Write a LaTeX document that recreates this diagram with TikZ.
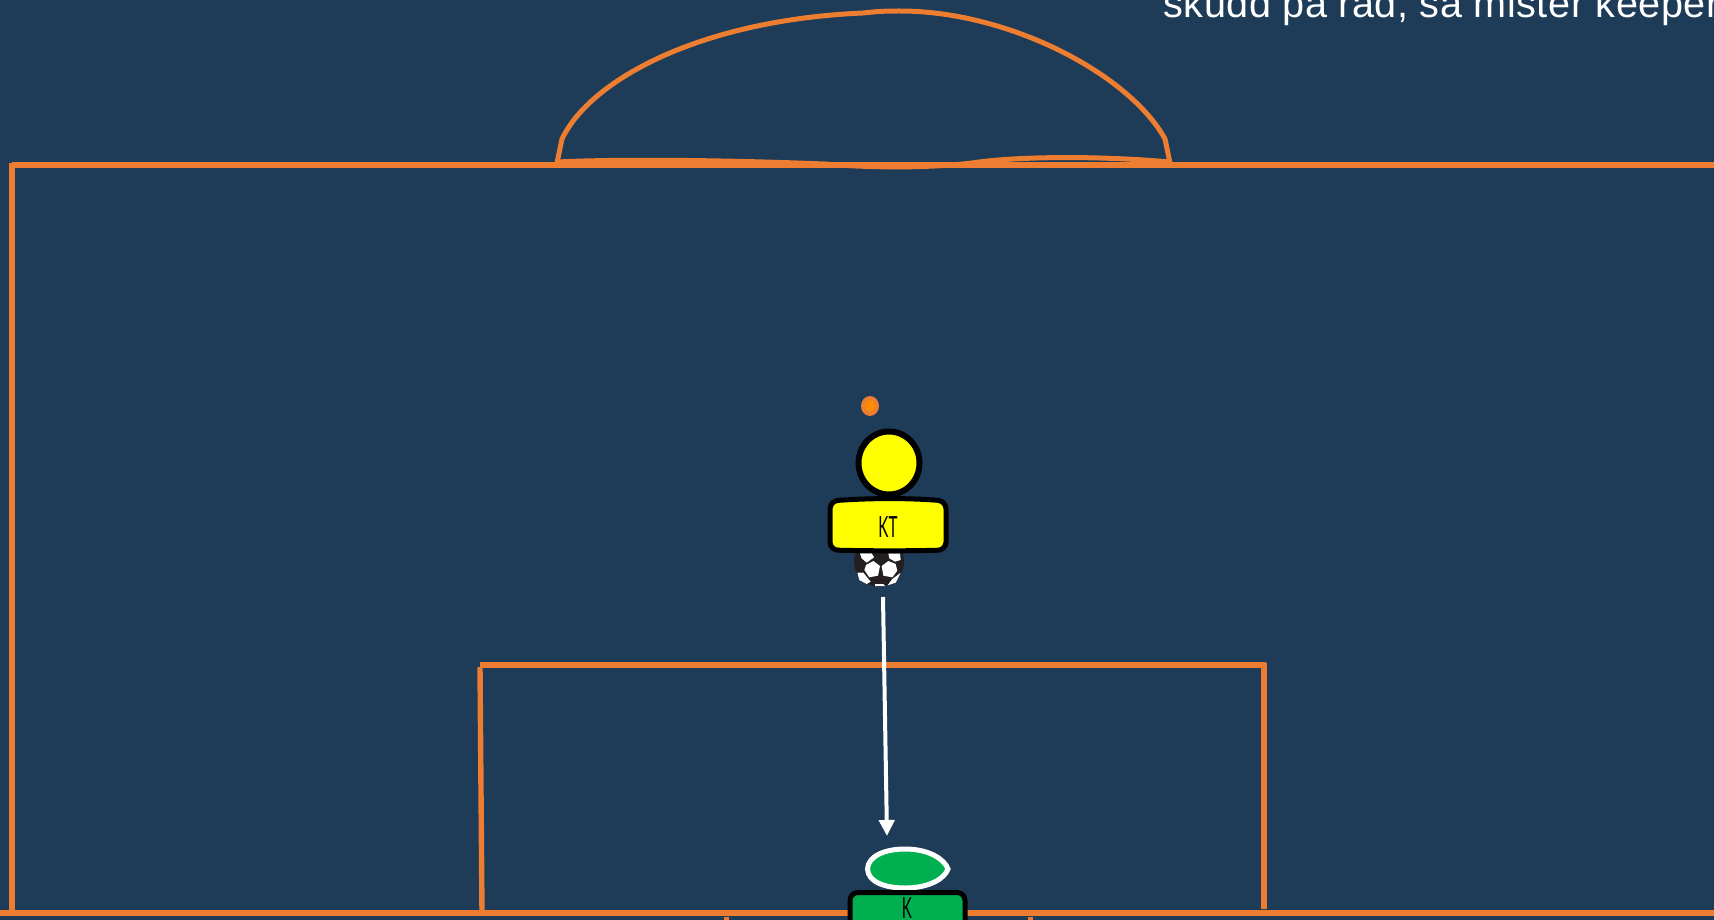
\documentclass[tikz,border=0pt]{standalone}
\usepackage{fontspec}
\setmainfont{Liberation Sans}
\newfontfamily\condfont{Lato}
\newfontfamily\topfont[LetterSpace=1.3]{Liberation Sans}
\usetikzlibrary{arrows.meta,shapes.geometric}
\definecolor{bgblue}{HTML}{1E3B57}
\definecolor{pitch}{HTML}{ED7D31}
\definecolor{dotin}{HTML}{FF8C00}
\definecolor{keepgreen}{HTML}{00B050}
\definecolor{ballink}{HTML}{231F20}
\definecolor{pureyellow}{RGB}{255,255,0}
\tikzset{
  x=0.5pt,y=-0.5pt,
  pitchline/.style={draw=pitch,line width=2.7pt},
  markline/.style={draw=pitch,line width=2.5pt,line join=round},
  outlined/.style={draw=black,line width=3pt,line join=round},
  boxed/.style={draw=black,line width=2.5pt,line join=round,rounded corners=4pt},
  lbl/.style={font=\condfont\fontsize{14.6}{14.6}\selectfont,inner sep=0pt,text=black},
  shotarrow/.style={draw=white,line width=2pt,-{Triangle[length=8pt,width=7.6pt]}},
}
\begin{document}
\begin{tikzpicture}
\useasboundingbox (0,0) rectangle (1714,920);
\clip (0,0) rectangle (1714,920);
\fill[bgblue] (0,0) rectangle (1714,920);
% text
\node[anchor=base west,inner sep=0pt,text=white,font=\topfont\fontsize{19.8}{22}\selectfont] (txt) at (1163,17.5) {skudd på rad, så mister keeper};
% pitch
\coordinate (tl) at (12,165);
\coordinate (tr) at (1714,165);
\coordinate (lt) at (12,163);
\coordinate (bl) at (12,913);
\coordinate (b0) at (0,913);
\coordinate (br) at (1714,913);
\draw[pitchline] (tl) -- (tr);
\draw[pitchline] (lt) -- (bl);
\draw[pitchline] (b0) -- (br);
\draw[pitchline] (480,665) -- (1266,665);
\draw[pitchline] (480,667) -- (482,913);
\draw[pitchline] (1264,663) -- (1264,909);
\fill[pitch] (723.5,917) rectangle (728.5,920);
\fill[pitch] (1027.5,917) rectangle (1032.5,920);
% arc
\draw[markline] (557,163) -- (562,139) .. controls (590,80) and (700,20) .. (863,13)
  .. controls (880,11) and (890,11) .. (900,11)
  .. controls (1010,11) and (1130,75) .. (1165,139) -- (1170,163);
\draw[markline] (557,162) .. controls (620,159) and (720,160) .. (825,164)
  .. controls (860,167) and (920,169) .. (972,163)
  .. controls (1010,157) and (1090,155) .. (1170,162);
% orange dot
\node[ellipse,fill=pitch,minimum width=9pt,minimum height=10pt,inner sep=0pt] (dotout) at (870,406) {};
\node[ellipse,fill=dotin,minimum width=5pt,minimum height=6pt,inner sep=0pt] (dotinner) at (870,406) {};
% ball
\fill[ballink] (879,561.7) circle [radius=25];
\begin{scope}[shift={(850,540)},x=0.16667pt,y=-0.16667pt]
\fill[white] (30,40) -- (65,40) -- (72,52) -- (50,68) -- (35,55) -- cycle;
\fill[white] (115,40) -- (150,40) -- (152,60) -- (135,65) -- (118,55) -- cycle;
\fill[white] (48,75) -- (70,63) -- (90,78) -- (84,107) -- (58,112) -- (43,90) -- cycle;
\fill[white] (95,78) -- (115,63) -- (137,72) -- (142,92) -- (127,112) -- (100,107) -- cycle;
\fill[white] (22,98) -- (40,98) -- (62,125) -- (50,132) -- (28,120) -- cycle;
\fill[white] (126,118) -- (152,98) -- (137,128) -- (113,136) -- cycle;
\fill[white] (75,132) -- (100,132) -- (105,138) -- (75,138) -- cycle;
\end{scope}
% player KT
\draw[outlined,fill=pureyellow] (889,463) ellipse [x radius=30.5,y radius=31.5];
\draw[boxed,fill=pureyellow] (830,501) .. controls (870,498) and (910,498) .. (946,501) -- (946,550) .. controls (910,551) and (870,551) .. (830,550) -- cycle;
\node[lbl] (kt) at (888,527) {\scalebox{0.52}[1]{KT}};
% shot
\coordinate (shotstart) at (883,597);
\coordinate (shotend) at (887,836);
\draw[shotarrow] (shotstart) -- (shotend);
% keeper
\draw[draw=white,line width=2.5pt,fill=keepgreen] (867.5,869) .. controls (868,856) and (885,849) .. (905,849) .. controls (930,849) and (945,860) .. (948,869) .. controls (945,878) and (930,888) .. (905,888) .. controls (885,888) and (868,882) .. (867.5,869) -- cycle;
\draw[boxed,fill=keepgreen] (850,892.5) -- (965,892.5) -- (965,945) -- (850,945) -- cycle;
\node[lbl] (k) at (907,908.5) {\scalebox{0.52}[1]{K}};
\end{tikzpicture}
\end{document}
